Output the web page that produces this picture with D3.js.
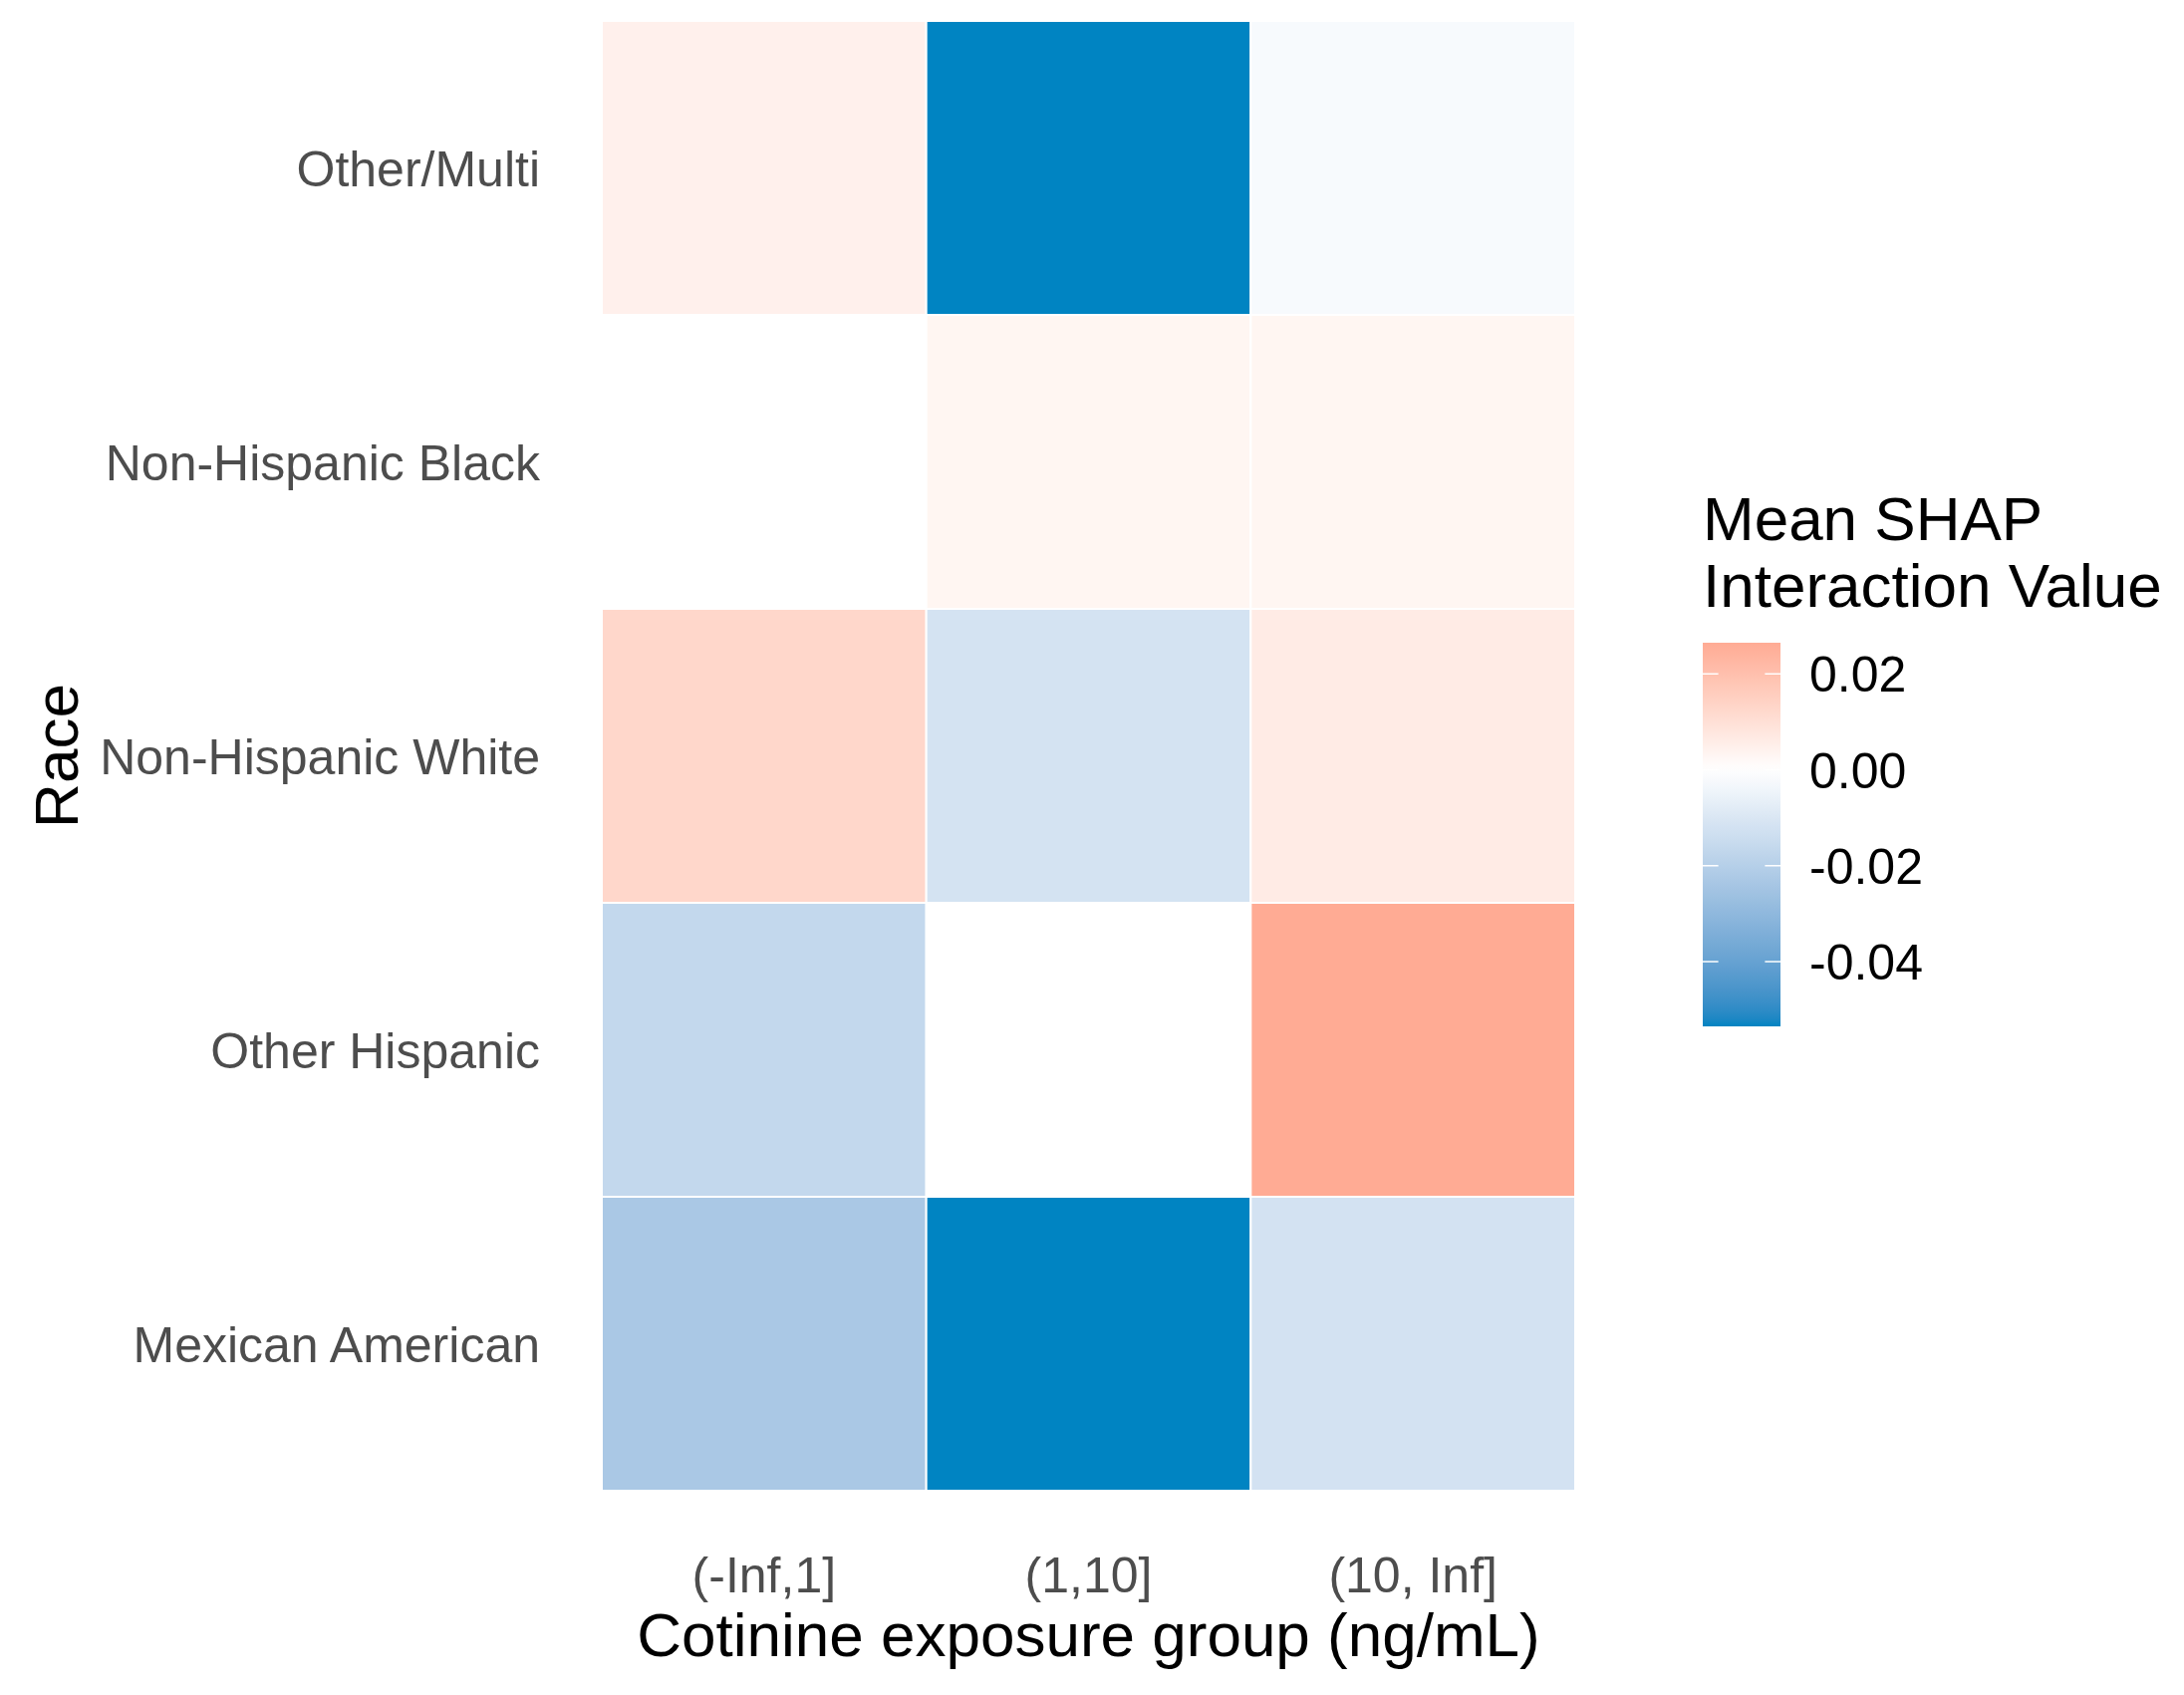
<!DOCTYPE html>
<html>
<head>
<meta charset="utf-8">
<script src="https://cdn.jsdelivr.net/npm/d3@7"></script>
<style>
  html, body { margin: 0; padding: 0; background: #fff; }
  svg { display: block; font-family: "Liberation Sans", Arial, Helvetica, sans-serif; }
  .axis path, .axis line { display: none; }
</style>
</head>
<body>
<div id="chart"></div>
<script>
// races from bottom row to top row (ggplot factor order)
const races = ["Mexican American", "Other Hispanic", "Non-Hispanic White", "Non-Hispanic Black", "Other/Multi"];
const groups = ["(-Inf,1]", "(1,10]", "(10, Inf]"];

// mean SHAP interaction value per race, one entry per cotinine group
const mexicanAmerican  = [-0.0230, -0.0535, -0.0120];
const otherHispanic    = [-0.0164,  0.0000,  0.0265];
const nonHispanicWhite = [ 0.0127, -0.0118,  0.0063];
const nonHispanicBlack = [ 0.0000,  0.0030,  0.0030];
const otherMulti       = [ 0.0046, -0.0535, -0.0022];

const legendTicks = [0.02, 0.00, -0.02, -0.04];

const rows = [mexicanAmerican, otherHispanic, nonHispanicWhite, nonHispanicBlack, otherMulti];
const cells = [];
races.forEach((race, i) => {
    groups.forEach((g, j) => cells.push({ race: race, group: g, value: rows[i][j] }));
});

const width = 2192, height = 1701;
const panel = { left: 604, right: 1581, top: 21, bottom: 1496 };

const svg = d3.select("#chart").append("svg")
    .attr("width", width)
    .attr("height", height);

const x = d3.scaleBand().domain(groups).range([panel.left, panel.right]);
const y = d3.scaleBand().domain(races.slice().reverse()).range([panel.top, panel.bottom]);

const vmin = d3.min(cells, d => d.value);
const vmax = d3.max(cells, d => d.value);
const color = d3.scaleLinear()
    .domain([vmin, 0, vmax])
    .range(["#0084C2", "#FFFFFF", "#FFAB94"])
    .interpolate(d3.interpolateLab);

// tiles
svg.append("g")
    .selectAll("rect")
    .data(cells)
    .enter().append("rect")
    .attr("x", d => x(d.group))
    .attr("y", d => y(d.race))
    .attr("width", x.bandwidth())
    .attr("height", y.bandwidth())
    .attr("fill", d => color(d.value))
    .attr("stroke", "#fff")
    .attr("stroke-width", 2);

// x axis labels
const xAxis = svg.append("g")
    .attr("class", "axis")
    .attr("transform", `translate(0, ${panel.bottom})`)
    .call(d3.axisBottom(x).tickSize(0).tickPadding(0));
xAxis.selectAll("text")
    .attr("y", 102)
    .attr("dy", 0)
    .attr("fill", "#4D4D4D")
    .style("font-size", "50px");

// y axis labels
const yAxis = svg.append("g")
    .attr("class", "axis")
    .attr("transform", `translate(${panel.left}, 0)`)
    .call(d3.axisLeft(y).tickSize(0).tickPadding(0));
yAxis.selectAll("text")
    .attr("x", -62)
    .attr("dy", "0.36em")
    .attr("fill", "#4D4D4D")
    .style("font-size", "50px");

// axis titles
svg.append("text")
    .attr("x", (panel.left + panel.right) / 2)
    .attr("y", 1662)
    .attr("text-anchor", "middle")
    .attr("fill", "#000")
    .style("font-size", "62px")
    .text("Cotinine exposure group (ng/mL)");

svg.append("text")
    .attr("transform", `translate(78, ${(panel.top + panel.bottom) / 2}) rotate(-90)`)
    .attr("text-anchor", "middle")
    .attr("fill", "#000")
    .style("font-size", "62px")
    .text("Race");

// legend
const legend = { x: 1709, w: 78, top: 645, bottom: 1030 };
const ly = d3.scaleLinear().domain([vmin, vmax]).range([legend.bottom, legend.top]);
const fmt = d3.formatLocale({ decimal: ".", thousands: ",", grouping: [3], currency: ["", ""], minus: "-" }).format(".2f");

svg.append("text")
    .attr("x", legend.x)
    .attr("fill", "#000")
    .style("font-size", "62px")
    .selectAll("tspan")
    .data(["Mean SHAP", "Interaction Value"])
    .enter().append("tspan")
    .attr("x", legend.x)
    .attr("y", (d, i) => 542 + i * 67)
    .text(d => d);

const grad = svg.append("defs").append("linearGradient")
    .attr("id", "shapGrad")
    .attr("x1", 0).attr("y1", 1).attr("x2", 0).attr("y2", 0);
d3.range(0, 1.0001, 0.02).forEach(t => {
    grad.append("stop")
        .attr("offset", t)
        .attr("stop-color", color(vmin + t * (vmax - vmin)));
});

svg.append("rect")
    .attr("x", legend.x)
    .attr("y", legend.top)
    .attr("width", legend.w)
    .attr("height", legend.bottom - legend.top)
    .attr("fill", "url(#shapGrad)");

const tickLen = legend.w / 5;
const lt = svg.append("g").selectAll("g")
    .data(legendTicks)
    .enter().append("g");
lt.append("line")
    .attr("x1", legend.x).attr("x2", legend.x + tickLen)
    .attr("y1", d => ly(d)).attr("y2", d => ly(d))
    .attr("stroke", "#fff").attr("stroke-width", 1.5);
lt.append("line")
    .attr("x1", legend.x + legend.w - tickLen).attr("x2", legend.x + legend.w)
    .attr("y1", d => ly(d)).attr("y2", d => ly(d))
    .attr("stroke", "#fff").attr("stroke-width", 1.5);
lt.append("text")
    .attr("x", 1816)
    .attr("y", d => ly(d))
    .attr("dy", "0.36em")
    .attr("fill", "#000")
    .style("font-size", "50px")
    .text(d => fmt(d));
</script>
</body>
</html>
